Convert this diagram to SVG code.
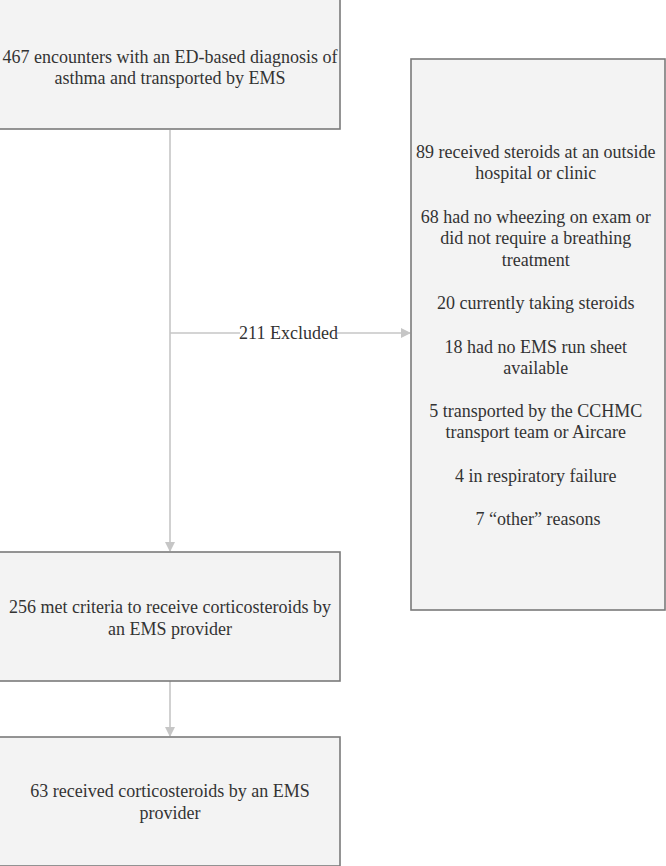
<svg xmlns="http://www.w3.org/2000/svg" width="666" height="866" viewBox="0 0 666 866">
<defs>
<style>
.box{fill:#f3f3f3;stroke:#7a7a7a;stroke-width:1.6}
.t{font-family:'Times New Roman','Liberation Serif','DejaVu Serif',serif;font-size:18px;fill:#333;text-anchor:middle}
.c{stroke:#c6c6c6;stroke-width:1.6;fill:none}
</style>
<marker id="ah" markerWidth="10" markerHeight="10" refX="9" refY="5" orient="auto" markerUnits="userSpaceOnUse">
<path d="M0,0 L10,5 L0,10 Z" fill="#c6c6c6"/>
</marker>
</defs>
<g id="connectors">
<line class="c" x1="170" y1="130" x2="170" y2="551" marker-end="url(#ah)"/>
<line class="c" x1="170" y1="333" x2="410" y2="333" marker-end="url(#ah)"/>
<line class="c" x1="170" y1="681" x2="170" y2="736" marker-end="url(#ah)"/>
<rect x="240" y="322" width="97" height="22" fill="#fff"/>
<text class="t" x="288.500" y="339">211 Excluded</text>
</g>
<g id="n1">
<rect class="box" x="-1" y="-1" width="341" height="130"/>
<text class="t" x="170" y="63">467 encounters with an ED-based diagnosis of</text>
<text class="t" x="170" y="84">asthma and transported by EMS</text>
</g>
<g id="n2">
<rect class="box" x="411" y="59" width="254" height="551"/>
<text class="t" x="538">
<tspan x="538" y="158">89 received steroids at an outside</tspan>
<tspan x="538" y="179">hospital or clinic</tspan>
<tspan x="538" y="223">68 had no wheezing on exam or</tspan>
<tspan x="538" y="244">did not require a breathing</tspan>
<tspan x="538" y="266">treatment</tspan>
<tspan x="538" y="309">20 currently taking steroids</tspan>
<tspan x="538" y="353">18 had no EMS run sheet</tspan>
<tspan x="538" y="374">available</tspan>
<tspan x="538" y="417">5 transported by the CCHMC</tspan>
<tspan x="538" y="438">transport team or Aircare</tspan>
<tspan x="538" y="482">4 in respiratory failure</tspan>
<tspan x="538" y="525">7 “other” reasons</tspan>
</text>
</g>
<g id="n3">
<rect class="box" x="-1" y="552" width="341" height="129"/>
<text class="t" x="170" y="613">256 met criteria to receive corticosteroids by</text>
<text class="t" x="170" y="635">an EMS provider</text>
</g>
<g id="n4">
<rect class="box" x="-1" y="737" width="341" height="129"/>
<text class="t" x="170" y="797">63 received corticosteroids by an EMS</text>
<text class="t" x="170" y="819">provider</text>
</g>
</svg>
